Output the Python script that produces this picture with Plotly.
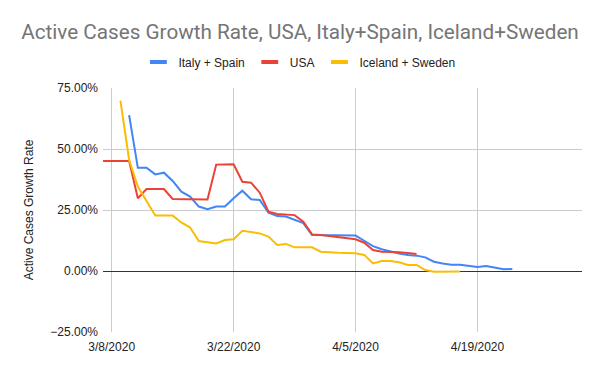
import plotly.graph_objects as go

# ---- data (percent values) ----
italy_spain_dates = [
    "2020-03-10", "2020-03-11", "2020-03-12", "2020-03-13", "2020-03-14", "2020-03-15",
    "2020-03-16", "2020-03-17", "2020-03-18", "2020-03-19", "2020-03-20", "2020-03-21",
    "2020-03-22", "2020-03-23", "2020-03-24", "2020-03-25", "2020-03-26", "2020-03-27",
    "2020-03-28", "2020-03-29", "2020-03-30", "2020-03-31", "2020-04-01", "2020-04-02",
    "2020-04-03", "2020-04-04", "2020-04-05", "2020-04-06", "2020-04-07", "2020-04-08",
    "2020-04-09", "2020-04-10", "2020-04-11", "2020-04-12", "2020-04-13", "2020-04-14",
    "2020-04-15", "2020-04-16", "2020-04-17", "2020-04-18", "2020-04-19", "2020-04-20",
    "2020-04-21", "2020-04-22", "2020-04-23",
]
italy_spain = [
    63.9, 42.3, 42.3, 39.6, 40.3, 36.9,
    32.5, 30.5, 26.4, 25.3, 26.4, 26.4,
    29.8, 32.9, 29.4, 29.1, 23.9, 22.5,
    22.3, 20.9, 19.6, 14.8, 14.8, 14.8,
    14.7, 14.6, 14.5, 12.4, 10.2, 8.9,
    7.9, 7.2, 6.6, 6.3, 5.6, 3.8,
    3.1, 2.6, 2.6, 2.0, 1.6, 2.0,
    1.5, 0.7, 0.8,
]

usa_dates = [
    "2020-03-07", "2020-03-08", "2020-03-09", "2020-03-10", "2020-03-11", "2020-03-12",
    "2020-03-13", "2020-03-14", "2020-03-15", "2020-03-16", "2020-03-17", "2020-03-18",
    "2020-03-19", "2020-03-20", "2020-03-21", "2020-03-22", "2020-03-23", "2020-03-24",
    "2020-03-25", "2020-03-26", "2020-03-27", "2020-03-28", "2020-03-29", "2020-03-30",
    "2020-03-31", "2020-04-01", "2020-04-02", "2020-04-03", "2020-04-04", "2020-04-05",
    "2020-04-06", "2020-04-07", "2020-04-08", "2020-04-09", "2020-04-10", "2020-04-11",
    "2020-04-12",
]
usa = [
    45.1, 45.1, 45.1, 45.1, 29.8, 33.6,
    33.6, 33.6, 29.5, 29.4, 29.3, 29.3,
    29.3, 43.6, 43.6, 43.7, 36.6, 36.2,
    32.1, 24.3, 23.4, 23.2, 22.9, 20.2,
    15.0, 14.8, 14.3, 13.9, 13.5, 13.0,
    11.6, 8.6, 7.9, 7.9, 7.7, 7.4,
    7.0,
]

iceland_sweden_dates = [
    "2020-03-09", "2020-03-10", "2020-03-11", "2020-03-12", "2020-03-13", "2020-03-14",
    "2020-03-15", "2020-03-16", "2020-03-17", "2020-03-18", "2020-03-19", "2020-03-20",
    "2020-03-21", "2020-03-22", "2020-03-23", "2020-03-24", "2020-03-25", "2020-03-26",
    "2020-03-27", "2020-03-28", "2020-03-29", "2020-03-30", "2020-03-31", "2020-04-01",
    "2020-04-02", "2020-04-03", "2020-04-04", "2020-04-05", "2020-04-06", "2020-04-07",
    "2020-04-08", "2020-04-09", "2020-04-10", "2020-04-11", "2020-04-12", "2020-04-13",
    "2020-04-14", "2020-04-15", "2020-04-16", "2020-04-17",
]
iceland_sweden = [
    69.8, 45.5, 34.6, 28.7, 22.7, 22.7,
    22.7, 19.9, 17.8, 12.3, 11.8, 11.3,
    12.7, 13.0, 16.5, 16.1, 15.4, 14.1,
    10.7, 11.1, 9.7, 9.7, 9.7, 7.9,
    7.6, 7.5, 7.4, 7.3, 6.6, 3.1,
    4.1, 4.1, 3.6, 2.5, 2.5, 0.4,
    -0.3, -0.3, -0.2, -0.2,
]

x_tick_vals = ["2020-03-08", "2020-03-22", "2020-04-05", "2020-04-19"]
x_tick_text = ["3/8/2020", "3/22/2020", "4/5/2020", "4/19/2020"]
y_tick_vals_pct = [-25, 0, 25, 50, 75]

series = [
    ("Italy + Spain", italy_spain_dates, italy_spain, "#4285F4"),
    ("USA", usa_dates, usa, "#EA4335"),
    ("Iceland + Sweden", iceland_sweden_dates, iceland_sweden, "#FBBC04"),
]

fig = go.Figure()
for name, xs, ys, color in series:
    fig.add_trace(go.Scatter(
        x=xs, y=[v / 100 for v in ys], name=name, mode="lines",
        line=dict(color=color, width=2), showlegend=False,
    ))
# legend entries drawn as short thick bars like the reference
for name, xs, ys, color in series:
    fig.add_trace(go.Scatter(
        x=[None], y=[None], name=name, mode="markers",
        marker=dict(symbol="line-ew", size=12, color=color,
                    line=dict(color=color, width=4)),
        showlegend=True, hoverinfo="skip",
    ))

fig.update_layout(
    width=600, height=371,
    margin=dict(l=103, r=18, t=88, b=39),
    paper_bgcolor="white", plot_bgcolor="white",
    font=dict(family="Arial, Liberation Sans, sans-serif", size=12, color="#222222"),
    title=dict(
        text="Active Cases Growth Rate, USA, Italy+Spain, Iceland+Sweden",
        x=0.5, xanchor="center", y=1 - 32 / 371, yanchor="middle",
        font=dict(family="Roboto, Arial, sans-serif", size=20.7, color="#757575"),
    ),
    legend=dict(
        orientation="h", x=0.41, xanchor="center", y=1.107, yanchor="middle",
        font=dict(size=12, color="#222222"),
        bgcolor="rgba(0,0,0,0)",
    ),
    showlegend=True,
)

fig.update_xaxes(
    type="date", range=["2020-03-07", "2020-05-01"],
    tickvals=x_tick_vals, ticktext=x_tick_text,
    showgrid=True, gridcolor="#cccccc", gridwidth=1,
    showline=False, zeroline=False, ticks="", automargin=False,
    ticklabelstandoff=6,
    tickfont=dict(size=12, color="#222222"),
)
fig.update_yaxes(
    range=[-0.25, 0.75], tickvals=[v / 100 for v in y_tick_vals_pct],
    tickformat=".2%",
    showgrid=True, gridcolor="#cccccc", gridwidth=1,
    zeroline=True, zerolinecolor="#333333", zerolinewidth=1,
    showline=False, ticks="", automargin=False,
    ticklabelstandoff=4,
    title=dict(text="Active Cases Growth Rate", font=dict(size=12, color="#222222"), standoff=14),
    tickfont=dict(size=12, color="#222222"),
)

fig.write_html("out.html", config={"displayModeBar": False},
               post_script="document.body.style.margin='0';")
